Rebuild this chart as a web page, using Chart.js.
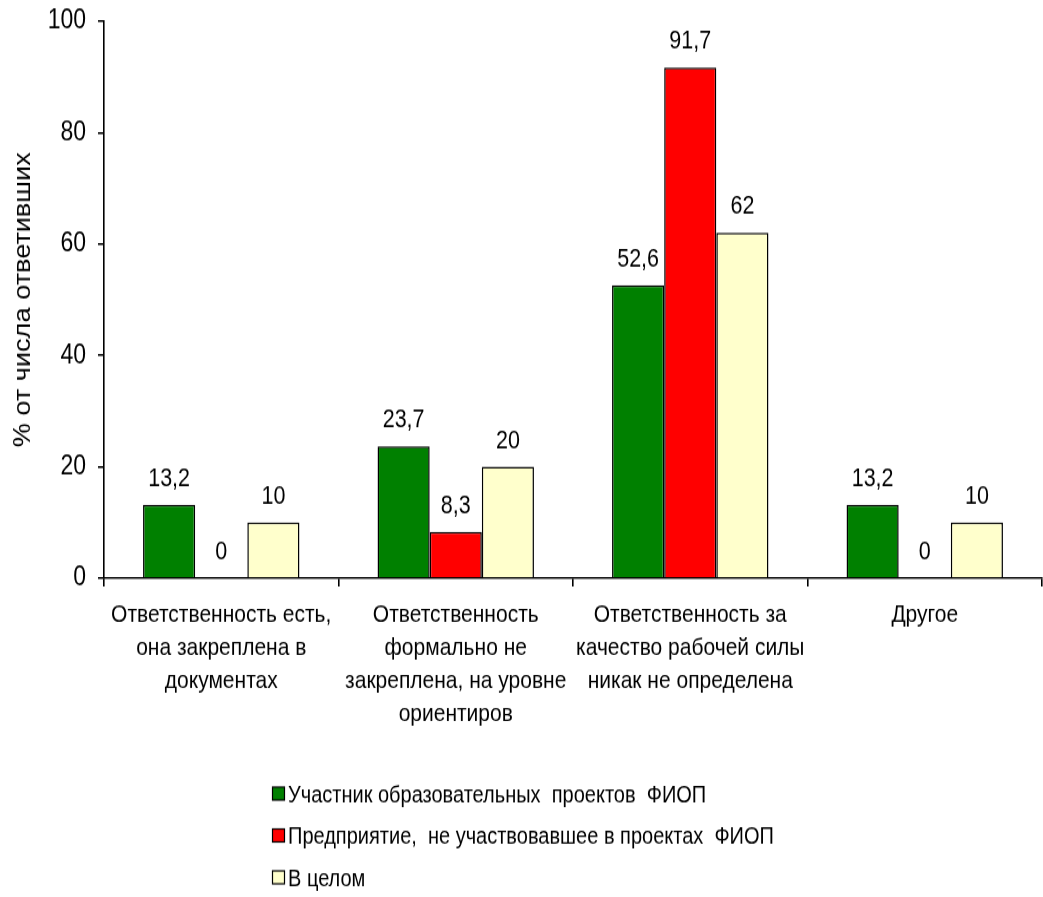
<!DOCTYPE html>
<html>
<head>
<meta charset="utf-8">
<script src="https://cdn.jsdelivr.net/npm/chart.js@4/dist/chart.umd.min.js"></script>
<style>
html, body { margin: 0; padding: 0; background: #fff; overflow: hidden; }
#wrap { width: 1043px; height: 897px; overflow: hidden; }
/* the original picture is an Excel chart stretched vertically; same stretch here */
#canvas { transform: scaleY(1.18); transform-origin: 0 0; }
</style>
</head>
<body>
<div id="wrap"><canvas id="canvas" width="1043" height="760"></canvas></div>
<script>
var categories = [
	["Ответственность есть,", "она закреплена в", "документах"],
	["Ответственность", "формально не", "закреплена, на уровне", "ориентиров"],
	["Ответственность за", "качество рабочей силы", "никак не определена"],
	["Другое"]
];
var seriesNames = [
	"Участник образовательных  проектов  ФИОП",
	"Предприятие,  не участвовавшее в проектах  ФИОП",
	"В целом"
];
var participantValues = [13.2, 23.7, 52.6, 13.2];
var nonParticipantValues = [0, 8.3, 91.7, 0];
var totalValues = [10, 20, 62, 10];
var seriesColors = ["#008000", "#FF0000", "#FFFFCC"];
var yTicks = [0, 20, 40, 60, 80, 100];

var baseFont = "'Liberation Sans', Arial, sans-serif";

// value labels above each bar, decimal comma like the original
var valueLabels = {
	id: 'valueLabels',
	afterDatasetsDraw: function(chart){
		var ctx = chart.ctx;
		ctx.save();
		ctx.font = '21.5px ' + baseFont;
		ctx.fillStyle = '#000';
		ctx.textAlign = 'center';
		ctx.textBaseline = 'alphabetic';
		chart.data.datasets.forEach(function(ds, i){
			var meta = chart.getDatasetMeta(i);
			meta.data.forEach(function(bar, j){
				var txt = String(ds.data[j]).replace('.', ',');
				ctx.fillText(txt, bar.x, bar.y - 16);
			});
		});
		ctx.restore();
	}
};

// legend stacked in rows under the categories
var stackedLegend = {
	id: 'stackedLegend',
	afterDraw: function(chart){
		var ctx = chart.ctx;
		var rows = [673, 708.5, 744];
		ctx.save();
		ctx.font = '20px ' + baseFont;
		ctx.textBaseline = 'middle';
		chart.data.datasets.forEach(function(ds, i){
			var y = rows[i];
			ctx.fillStyle = ds.backgroundColor;
			ctx.fillRect(272.5, y - 6, 12, 11);
			ctx.strokeStyle = '#000';
			ctx.lineWidth = 1.2;
			ctx.strokeRect(272.5, y - 6, 12, 11);
			ctx.fillStyle = '#000';
			ctx.fillText(ds.label, 288, y + 1);
		});
		ctx.restore();
	}
};

var config = {
	type: 'bar',
	data: {
		labels: categories,
		datasets: [
			{label: seriesNames[0], data: participantValues},
			{label: seriesNames[1], data: nonParticipantValues},
			{label: seriesNames[2], data: totalValues}
		]
	},
	options: {
		responsive: false,
		animation: false,
		layout: {padding: {top: 18, right: 1, left: 0, bottom: 0}},
		datasets: {
			bar: {
				categoryPercentage: 0.667,
				barPercentage: 1,
				borderColor: '#000',
				borderWidth: 1.5,
				borderSkipped: 'start'
			}
		},
		plugins: {
			legend: {display: false},
			tooltip: {enabled: false}
		},
		scales: {
			x: {
				grid: {
					offset: true,
					drawOnChartArea: false,
					drawTicks: true,
					tickLength: 7,
					color: '#000',
					lineWidth: 1.6
				},
				border: {color: '#000', width: 1.6},
				ticks: {
					color: '#000',
					maxRotation: 0,
					autoSkip: false,
					padding: 10,
					font: {family: baseFont, size: 21, lineHeight: '28px'}
				},
				afterFit: function(scale){
					scale.height = 270;
					scale.paddingLeft = 0;
					scale.paddingRight = 0;
				}
			},
			y: {
				min: 0,
				max: 100,
				afterBuildTicks: function(scale){
					scale.ticks = yTicks.map(function(v){ return {value: v}; });
				},
				grid: {
					drawOnChartArea: false,
					drawTicks: true,
					tickLength: 6,
					color: '#000',
					lineWidth: 1.6
				},
				border: {color: '#000', width: 1.6},
				ticks: {
					color: '#000',
					padding: 12,
					font: {family: baseFont, size: 23}
				},
				title: {
					display: true,
					text: '% от числа ответивших',
					color: '#000',
					padding: {top: 10, bottom: 0},
					font: {family: baseFont, size: 23}
				},
				afterFit: function(scale){
					scale.width = 104;
					scale.paddingTop = 0;
					scale.paddingBottom = 0;
				}
			}
		}
	},
	plugins: [valueLabels, stackedLegend]
};

config.data.datasets.forEach(function(ds, i){
	ds.backgroundColor = seriesColors[i];
});

var ctx = document.getElementById('canvas').getContext('2d');
window.myBar = new Chart(ctx, config);
</script>
</body>
</html>
